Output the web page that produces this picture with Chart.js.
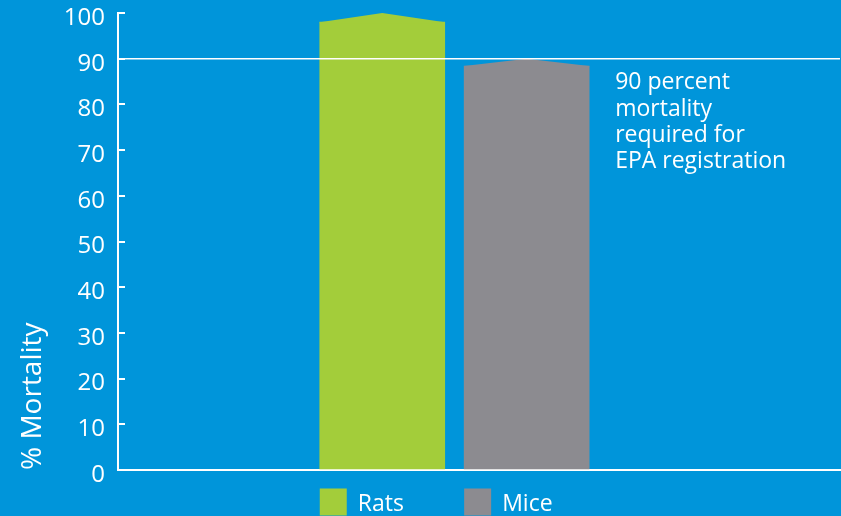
<!DOCTYPE html>
<html>
<head>
<meta charset="utf-8">
<title>% Mortality</title>
<script src="https://cdn.jsdelivr.net/npm/chart.js@4/dist/chart.umd.min.js"></script>
<style>
  html, body { margin: 0; padding: 0; background: #0095da; }
  #wrap { width: 841px; height: 516px; }
</style>
</head>
<body>
<div id="wrap"><canvas id="chart" width="841" height="516"></canvas></div>
<script>
const categories = ['Rats', 'Mice'];
const mortality = [100, 90];        // peak of each bar
const shoulders = [98, 88.4];       // where the roof starts
const barColors = ['#a3cd3a', '#8c8b90'];
const yTicks = [0, 10, 20, 30, 40, 50, 60, 70, 80, 90, 100];
const threshold = 90;
const noteLines = ['90 percent', 'mortality', 'required for', 'EPA registration'];

(function () {
  const white = '#ffffff';
  const fontFamily = "'Open Sans', 'DejaVu Sans', sans-serif";

  // roof, threshold line, note and legend, all placed from the bar elements
  const decorations = {
    id: 'decorations',
    afterDatasetsDraw(chart) {
      const { ctx, chartArea } = chart;
      const yScale = chart.scales.y;
      const bars = chart.getDatasetMeta(0).data;

      bars.forEach((bar, i) => {
        const { x, y, width } = bar.getProps(['x', 'y', 'width'], true);
        const peakY = yScale.getPixelForValue(mortality[i]);
        ctx.save();
        ctx.fillStyle = barColors[i];
        ctx.beginPath();
        ctx.moveTo(x - width / 2, y + 1);
        ctx.lineTo(x - width / 2, y);
        ctx.lineTo(x, peakY);
        ctx.lineTo(x + width / 2, y);
        ctx.lineTo(x + width / 2, y + 1);
        ctx.closePath();
        ctx.fill();
        ctx.restore();
      });

      const lineY = yScale.getPixelForValue(threshold);
      ctx.save();
      ctx.strokeStyle = white;
      ctx.lineWidth = 1.5;
      ctx.beginPath();
      ctx.moveTo(chartArea.left, lineY);
      ctx.lineTo(chartArea.right, lineY);
      ctx.stroke();

      const last = bars[bars.length - 1].getProps(['x', 'width'], true);
      ctx.fillStyle = white;
      ctx.font = `400 23px ${fontFamily}`;
      ctx.textAlign = 'left';
      ctx.textBaseline = 'alphabetic';
      noteLines.forEach((line, i) => {
        ctx.fillText(line, last.x + last.width / 2 + 26, lineY + 30.5 + i * 26.4);
      });

      ctx.font = `400 23px ${fontFamily}`;
      bars.forEach((bar, i) => {
        const { x, width } = bar.getProps(['x', 'width'], true);
        const left = x - width / 2;
        ctx.fillStyle = barColors[i];
        ctx.fillRect(left, chartArea.bottom + 18.5, 27, 27);
        ctx.fillStyle = white;
        ctx.fillText(categories[i], left + 38, chartArea.bottom + 41);
      });
      ctx.restore();
    },
  };

  const ctx = document.getElementById('chart');
  new Chart(ctx, {
    type: 'bar',
    data: {
      datasets: [{
        label: '% Mortality',
        data: categories.map((name, i) => ({ x: i, y: shoulders[i] })),
        backgroundColor: barColors,
        borderWidth: 0,
        barThickness: 125,
      }],
    },
    options: {
      responsive: false,
      animation: false,
      layout: { padding: { top: 13, right: 1, bottom: 46, left: 0 } },
      plugins: {
        legend: { display: false },
        tooltip: { enabled: false },
      },
      scales: {
        x: {
          type: 'linear',
          offset: false,
          min: -1.83,
          max: 3.17,
          ticks: { display: false },
          grid: { display: false, drawTicks: false, offset: false },
          border: { display: true, color: white, width: 2 },
          afterFit(scale) { scale.height = 0; scale.paddingLeft = 0; scale.paddingRight = 0; },
        },
        y: {
          min: 0,
          max: 100,
          afterBuildTicks(scale) { scale.ticks = yTicks.map((v) => ({ value: v })); },
          ticks: {
            color: white,
            padding: 20,
            labelOffset: 5,
            font: { family: fontFamily, size: 24, weight: '400' },
          },
          grid: { display: true, drawOnChartArea: false, tickLength: -7, color: white, lineWidth: 2 },
          border: { display: true, color: white, width: 2 },
          title: {
            display: true,
            text: '% Mortality',
            align: 'start',
            color: white,
            padding: { top: 16, bottom: 0 },
            font: { family: fontFamily, size: 28, weight: '400' },
          },
          afterFit(scale) { scale.width = 118; scale.paddingTop = 0; scale.paddingBottom = 0; },
        },
      },
    },
    plugins: [decorations],
  });
})();
</script>
</body>
</html>
